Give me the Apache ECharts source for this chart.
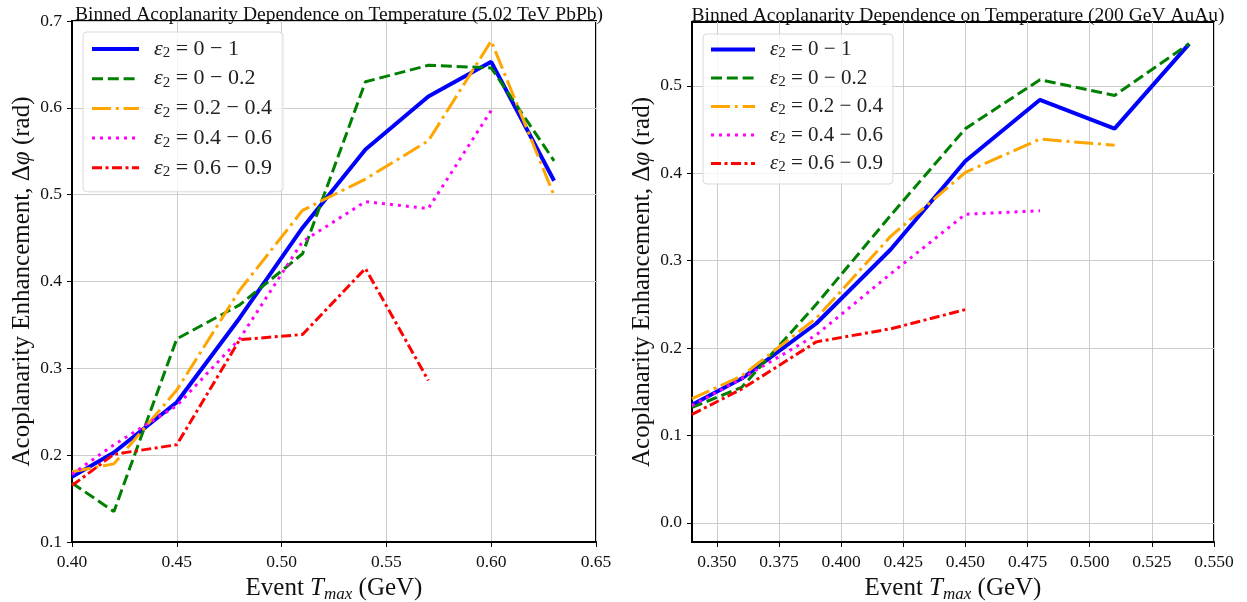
<!DOCTYPE html>
<html>
<head>
<meta charset="utf-8">
<script src="https://cdn.jsdelivr.net/npm/echarts@6/dist/echarts.min.js"></script>
<style>
html,body{margin:0;padding:0;background:#fff;}
#chart{width:1247px;height:602px;}
</style>
</head>
<body>
<div id="chart"></div>
<script>
// ---------------- DATA ----------------
// Left panel: 5.02 TeV PbPb
const LEFT_T = [0.40, 0.42, 0.45, 0.48, 0.51, 0.54, 0.57, 0.60, 0.63];
const L_E0_1    = [0.175, 0.203, 0.261, 0.358, 0.462, 0.552, 0.613, 0.653, 0.516];
const L_E0_02   = [0.168, 0.135, 0.334, 0.373, 0.432, 0.630, 0.649, 0.646, 0.539];
const L_E02_04  = [0.181, 0.190, 0.275, 0.390, 0.482, 0.518, 0.562, 0.677, 0.499];
const L_E04_06  = [0.178, 0.212, 0.257, 0.334, 0.446, 0.492, 0.484, 0.597];
const L_E06_09  = [0.165, 0.201, 0.212, 0.333, 0.339, 0.415, 0.286];

// Right panel: 200 GeV AuAu
const RIGHT_T = [0.34, 0.36, 0.39, 0.42, 0.45, 0.48, 0.51, 0.54];
const R_E0_1    = [0.135, 0.165, 0.228, 0.313, 0.414, 0.484, 0.451, 0.548];
const R_E0_02   = [0.132, 0.155, 0.250, 0.352, 0.451, 0.507, 0.489, 0.548];
const R_E02_04  = [0.142, 0.168, 0.234, 0.328, 0.401, 0.439, 0.432];
const R_E04_06  = [0.134, 0.165, 0.215, 0.285, 0.353, 0.357];
const R_E06_09  = [0.124, 0.153, 0.207, 0.222, 0.244];

// Tick labels
const RIGHT_X_TICKS = [0.350, 0.375, 0.400, 0.425, 0.450, 0.475, 0.500, 0.525, 0.550];
const RIGHT_Y_TICKS = [0.0, 0.1, 0.2, 0.3, 0.4, 0.5];

const SERIES_NAMES = ['e0-1', 'e0-0.2', 'e0.2-0.4', 'e0.4-0.6', 'e0.6-0.9'];
const LEGEND_LABELS = {
  'e0-1': '0 − 1',
  'e0-0.2': '0 − 0.2',
  'e0.2-0.4': '0.2 − 0.4',
  'e0.4-0.6': '0.4 − 0.6',
  'e0.6-0.9': '0.6 − 0.9'
};
const TITLE_LEFT = 'Binned Acoplanarity Dependence on Temperature (5.02 TeV PbPb)';
const TITLE_RIGHT = 'Binned Acoplanarity Dependence on Temperature (200 GeV AuAu)';

// ---------------- STYLE ----------------
const FONT = 'Liberation Serif';
const STYLES = [
  {color: '#0000ff', width: 4, type: 'solid'},
  {color: '#008000', width: 3, type: [11, 4.8]},
  {color: '#ffa500', width: 3, type: [19, 4.8, 3, 4.8]},
  {color: '#ff00ff', width: 3, type: [3, 5]},
  {color: '#ff0000', width: 3, type: [10, 3.5, 3, 3.5]}
];

function pairs(xs, ys) { return ys.map((y, i) => [xs[i], y]); }

const leftSets = [L_E0_1, L_E0_02, L_E02_04, L_E04_06, L_E06_09];
const rightSets = [R_E0_1, R_E0_02, R_E02_04, R_E04_06, R_E06_09];

function lineStyleOf(i) {
  return {color: STYLES[i].color, width: STYLES[i].width, type: STYLES[i].type, cap: 'butt'};
}

const series = [];
leftSets.forEach((ys, i) => {
  series.push({
    name: SERIES_NAMES[i], type: 'line', xAxisIndex: 0, yAxisIndex: 0,
    data: pairs(LEFT_T, ys), symbol: 'none', animation: false,
    lineStyle: lineStyleOf(i), itemStyle: {color: STYLES[i].color}
  });
});
rightSets.forEach((ys, i) => {
  series.push({
    name: SERIES_NAMES[i], type: 'line', xAxisIndex: 1, yAxisIndex: 1,
    data: pairs(RIGHT_T, ys), symbol: 'none', animation: false,
    lineStyle: lineStyleOf(i), itemStyle: {color: STYLES[i].color}
  });
});

function legendRich(fs) {
  return {
    e: {fontFamily: FONT, fontStyle: 'italic', fontSize: fs, lineHeight: fs + 2, color: '#222', padding: [0, 0, 0, 10]},
    s: {fontFamily: FONT, fontSize: Math.round(fs * 0.7), lineHeight: Math.round(fs * 0.7), verticalAlign: 'bottom', color: '#222'},
    t: {fontFamily: FONT, fontSize: fs, lineHeight: fs + 2, color: '#222'}
  };
}
function legendFmt(name) { return '{e|ε}{s|2}{t| = ' + LEGEND_LABELS[name] + '}'; }
const legendData = SERIES_NAMES.map((n, i) => ({name: n, lineStyle: lineStyleOf(i), itemStyle: {opacity: 0}}));

const nameRich = {
  a: {fontFamily: FONT, fontSize: 25, lineHeight: 29, color: '#111'},
  i: {fontFamily: FONT, fontSize: 25, lineHeight: 29, fontStyle: 'italic', color: '#111'},
  s: {fontFamily: FONT, fontSize: 17, lineHeight: 17, fontStyle: 'italic', verticalAlign: 'bottom', color: '#111'}
};
const X_NAME = '{a|Event }{i|T}{s|max}{a| (GeV)}';
const Y_NAME = '{a|Acoplanarity Enhancement, Δ}{i|φ}{a| (rad)}';

const tickStyle = {show: true, inside: false, length: 5, lineStyle: {color: '#000', width: 1}};
const gridLine = {show: true, lineStyle: {color: '#cccccc', width: 1}};
const labelStyle = {fontFamily: FONT, fontSize: 17.5, color: '#111'};
const axLine = {show: true, onZero: false, lineStyle: {color: '#000', width: 2}};

const option = {
  animation: false,
  backgroundColor: '#fff',
  title: [
    {text: TITLE_LEFT, left: 334, top: 0, textAlign: 'center',
     textStyle: {fontFamily: FONT, fontSize: 19.5, fontWeight: 'normal', color: '#111'}},
    {text: TITLE_RIGHT, left: 953, top: 1, textAlign: 'center',
     textStyle: {fontFamily: FONT, fontSize: 19.5, fontWeight: 'normal', color: '#111'}}
  ],
  grid: [
    {left: 72, top: 21, width: 524, height: 521, show: true, borderColor: '#000', borderWidth: 2,
     backgroundColor: 'transparent', containLabel: false, outerBoundsMode: 'none'},
    {left: 692, top: 22, width: 522, height: 520, show: true, borderColor: '#000', borderWidth: 2,
     backgroundColor: 'transparent', containLabel: false, outerBoundsMode: 'none'}
  ],
  legend: [
    {data: legendData, orient: 'vertical', left: 83, top: 32,
     itemWidth: 47, itemHeight: 12, itemGap: 6.7,
     padding: [6, 11, 12, 7],
     itemStyle: {opacity: 0},
     backgroundColor: 'rgba(255,255,255,0.8)', borderColor: '#d9d9d9', borderWidth: 1, borderRadius: 4,
     formatter: legendFmt, textStyle: {rich: legendRich(22)}, selectedMode: false},
    {data: legendData, orient: 'vertical', left: 703, top: 34,
     itemWidth: 44, itemHeight: 12, itemGap: 6.5,
     padding: [5, 10, 9, 6],
     itemStyle: {opacity: 0},
     backgroundColor: 'rgba(255,255,255,0.8)', borderColor: '#d9d9d9', borderWidth: 1, borderRadius: 4,
     formatter: legendFmt, textStyle: {rich: legendRich(21)}, selectedMode: false}
  ],
  xAxis: [
    {type: 'value', gridIndex: 0, min: 0.40, max: 0.65, interval: 0.05,
     name: X_NAME, nameLocation: 'middle', nameGap: 28, nameTextStyle: {rich: nameRich},
     axisLine: axLine, axisTick: tickStyle, splitLine: gridLine,
     axisLabel: Object.assign({margin: 11, formatter: v => v.toFixed(2)}, labelStyle)},
    {type: 'value', gridIndex: 1, min: 0.34, max: 0.55,
     name: X_NAME, nameLocation: 'middle', nameGap: 28, nameTextStyle: {rich: nameRich},
     axisLine: axLine,
     axisTick: Object.assign({customValues: RIGHT_X_TICKS}, tickStyle), splitLine: gridLine,
     axisLabel: Object.assign({margin: 11, customValues: RIGHT_X_TICKS, formatter: v => v.toFixed(3)}, labelStyle)}
  ],
  yAxis: [
    {type: 'value', gridIndex: 0, min: 0.1, max: 0.7, interval: 0.1,
     name: Y_NAME, nameLocation: 'middle', nameGap: 35, nameTextStyle: {rich: nameRich},
     axisLine: axLine, axisTick: tickStyle, splitLine: gridLine,
     axisLabel: Object.assign({margin: 10, formatter: v => v.toFixed(1)}, labelStyle)},
    {type: 'value', gridIndex: 1, min: -0.022, max: 0.573,
     name: Y_NAME, nameLocation: 'middle', nameGap: 35, nameTextStyle: {rich: nameRich},
     axisLine: axLine,
     axisTick: Object.assign({customValues: RIGHT_Y_TICKS}, tickStyle), splitLine: gridLine,
     axisLabel: Object.assign({margin: 10, customValues: RIGHT_Y_TICKS, formatter: v => v.toFixed(1)}, labelStyle)}
  ],
  series: series
};

const chart = echarts.init(document.getElementById('chart'), null, {renderer: 'canvas'});
chart.setOption(option);
</script>
</body>
</html>
